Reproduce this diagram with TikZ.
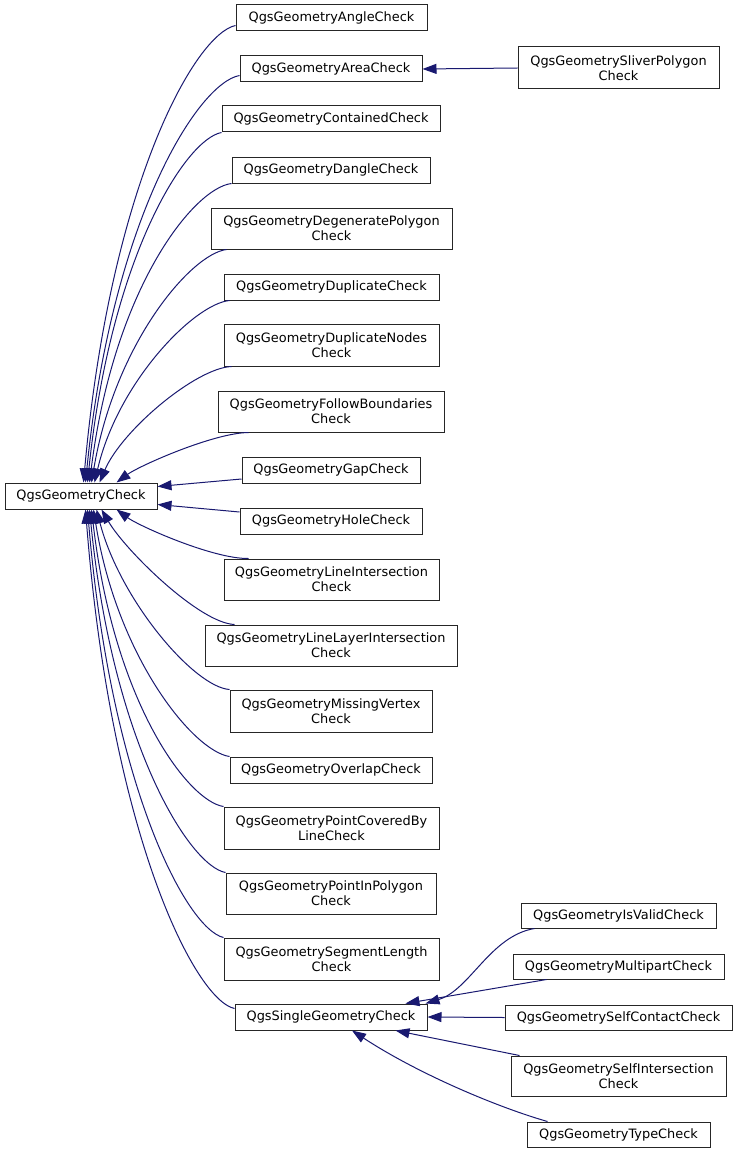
\documentclass[tikz,border=0pt]{standalone}
\usepackage{fontspec}
\setmainfont{DejaVu Sans}
\usetikzlibrary{arrows.meta}
\definecolor{edgeblue}{HTML}{191970}
\begin{document}
\begin{tikzpicture}[x=1pt,y=1pt,
  cls/.style={draw=black!85, line width=1pt, fill=white, inner sep=0pt, align=center,
    font=\fontsize{12.9}{15}\selectfont, minimum height=26pt},
  two/.style={minimum height=42pt},
  inh/.style={draw=edgeblue, line width=1pt, -{Triangle[length=14pt,width=10pt]}}]
\useasboundingbox (0,0) rectangle (737,-1153);

\node[cls, minimum width=152pt] (check) at (81,-496) {QgsGeometryCheck};
\node[cls, minimum width=191pt] (angle) at (331.5,-18) {QgsGeometryAngleCheck};
\node[cls, minimum width=182pt] (area) at (331,-69) {QgsGeometryAreaCheck};
\node[cls, two, minimum width=201pt] (sliver) at (618.5,-68) {QgsGeometrySliverPolygon\\Check};
\node[cls, minimum width=218pt] (contained) at (331,-119) {QgsGeometryContainedCheck};
\node[cls, minimum width=198pt] (dangle) at (331,-170) {QgsGeometryDangleCheck};
\node[cls, two, minimum width=241pt, minimum height=41pt] (degenerate) at (331.5,-228.5) {QgsGeometryDegeneratePolygon\\Check};
\node[cls, minimum width=215pt] (duplicate) at (331.5,-287) {QgsGeometryDuplicateCheck};
\node[cls, two, minimum width=215pt] (dupnodes) at (331.5,-345) {QgsGeometryDuplicateNodes\\Check};
\node[cls, two, minimum width=226pt, minimum height=41pt] (follow) at (331,-411.5) {QgsGeometryFollowBoundaries\\Check};
\node[cls, minimum width=178pt] (gap) at (331,-470) {QgsGeometryGapCheck};
\node[cls, minimum width=182pt] (hole) at (331,-521) {QgsGeometryHoleCheck};
\node[cls, two, minimum width=215pt, minimum height=41pt] (lineint) at (331.5,-579.5) {QgsGeometryLineIntersection\\Check};
\node[cls, two, minimum width=252pt, minimum height=41pt] (linelayer) at (331,-645.5) {QgsGeometryLineLayerIntersection\\Check};
\node[cls, two, minimum width=202pt] (missing) at (331,-711) {QgsGeometryMissingVertex\\Check};
\node[cls, minimum width=202pt] (overlap) at (331,-770) {QgsGeometryOverlapCheck};
\node[cls, two, minimum width=215pt] (pointcov) at (331.5,-828) {QgsGeometryPointCoveredBy\\LineCheck};
\node[cls, two, minimum width=210pt, minimum height=41pt] (pointin) at (331,-893.5) {QgsGeometryPointInPolygon\\Check};
\node[cls, two, minimum width=215pt] (segment) at (331.5,-959) {QgsGeometrySegmentLength\\Check};
\node[cls, minimum width=192pt] (single) at (331,-1017) {QgsSingleGeometryCheck};
\node[cls, minimum width=195pt, minimum height=25pt] (isvalid) at (618.5,-915.5) {QgsGeometryIsValidCheck};
\node[cls, minimum width=211pt, minimum height=25pt] (multipart) at (618.5,-966.5) {QgsGeometryMultipartCheck};
\node[cls, minimum width=227pt, minimum height=25pt] (selfcontact) at (618.5,-1017.5) {QgsGeometrySelfContactCheck};
\node[cls, two, minimum width=215pt, minimum height=40pt] (selfint) at (618.5,-1076) {QgsGeometrySelfIntersection\\Check};
\node[cls, minimum width=183pt, minimum height=25pt] (type) at (618.5,-1134.5) {QgsGeometryTypeCheck};

% children above the base class
\draw[inh] ([yshift=6pt]angle.south west) .. controls (195,-34) and (110,-185) .. ([xshift=79pt]check.north west);
\draw[inh] ([yshift=7pt]area.south west) .. controls (198,-83) and (112,-218) .. ([xshift=81pt]check.north west);
\draw[inh] (contained.south west) .. controls (186,-139) and (111,-255) .. ([xshift=83pt]check.north west);
\draw[inh] (dangle.south west) .. controls (194,-188) and (114,-287) .. ([xshift=85pt]check.north west);
\draw[inh] ([xshift=16pt]degenerate.south west) .. controls (191,-254) and (115,-343) .. ([xshift=87pt]check.north west);
\draw[inh] ([xshift=6pt]duplicate.south west) .. controls (194,-304) and (118,-382) .. ([xshift=90pt]check.north west);
\draw[inh] ([xshift=8pt]dupnodes.south west) .. controls (196,-368) and (122,-430) .. ([xshift=95pt]check.north west);
\draw[inh] ([xshift=31pt]follow.south west) .. controls (213,-433) and (139,-466) .. ([xshift=112pt]check.north west);
\draw[inh] ([yshift=-9pt]gap.west) -- ([yshift=-4pt]check.north east);
\draw[inh] ([yshift=9pt]hole.west) -- ([yshift=5pt]check.south east);
% children below the base class
\draw[inh] ([xshift=25pt]lineint.north west) .. controls (213,-559) and (139,-526) .. ([xshift=112pt]check.south west);
\draw[inh] ([xshift=30pt]linelayer.north west) .. controls (199,-623) and (125,-550) .. ([xshift=97pt]check.south west);
\draw[inh] (missing.north west) .. controls (194,-687) and (120,-600) .. ([xshift=92pt]check.south west);
\draw[inh] (overlap.north west) .. controls (193,-751) and (117,-657) .. ([xshift=89pt]check.south west);
\draw[inh] (pointcov.north west) .. controls (188,-801) and (114,-703) .. ([xshift=87pt]check.south west);
\draw[inh] (pointin.north west) .. controls (190,-866) and (113,-746) .. ([xshift=85pt]check.south west);
\draw[inh] (segment.north west) .. controls (187,-929) and (111,-788) .. ([xshift=83pt]check.south west);
\draw[inh] ([yshift=-5pt]single.north west) .. controls (195,-1000) and (111,-835) .. ([xshift=81pt]check.south west);
% right side
\draw[inh] (sliver.west) -- (area.east);
\draw[inh] ([xshift=14pt]isvalid.south west) .. controls (490,-936) and (470,-990) .. ([xshift=-2pt]single.north east);
\draw[inh] ([xshift=34pt]multipart.south west) -- ([xshift=-22pt]single.north east);
\draw[inh] (selfcontact.west) -- (single.east);
\draw[inh] ([xshift=9pt]selfint.north west) -- ([xshift=-32pt]single.south east);
\draw[inh] ([xshift=21pt]type.north west) .. controls (500,-1108) and (420,-1075) .. ([xshift=21pt]single.south);
\end{tikzpicture}
\end{document}
